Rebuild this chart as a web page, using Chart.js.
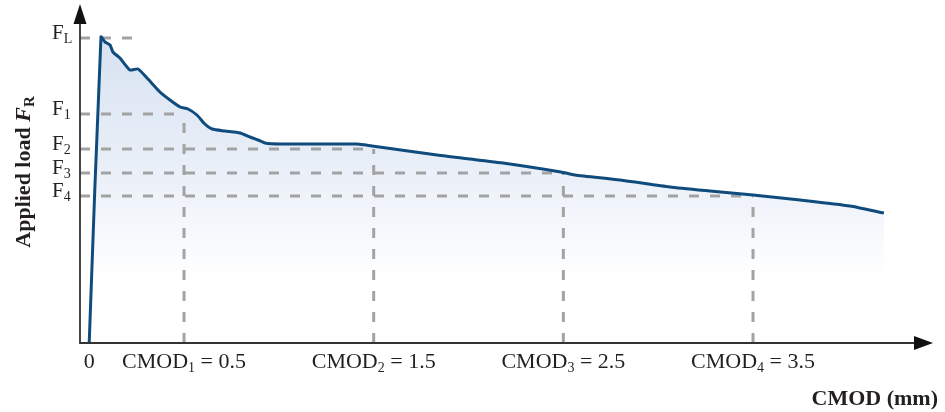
<!DOCTYPE html>
<html>
<head>
<meta charset="utf-8">
<script src="https://cdn.jsdelivr.net/npm/chart.js@4/dist/chart.umd.min.js"></script>
<style>
  html, body { margin: 0; padding: 0; background: #ffffff; }
  #wrap { width: 945px; height: 412px; }
</style>
</head>
<body>
<div id="wrap"><canvas id="c" width="945" height="412"></canvas></div>
<script>
// Load–CMOD curve of a notched beam test (schematic)
const cmod = [0, 0.062, 0.083, 0.110, 0.125, 0.162, 0.215, 0.257, 0.305, 0.373, 0.426, 0.479,
  0.521, 0.568, 0.610, 0.648, 0.716, 0.795, 0.848, 0.890, 0.927, 1.006, 1.412, 1.491,
  1.834, 2.182, 2.487, 2.561, 2.799, 3.062, 3.273, 3.500, 3.748, 4.011, 4.190];
const load = [0, 30.6, 30.1, 29.8, 29.1, 28.5, 27.3, 27.4, 26.5, 25.1, 24.3, 23.6,
  23.4, 22.8, 21.9, 21.4, 21.2, 21.0, 20.6, 20.3, 20.0, 19.9, 19.9, 19.7,
  18.8, 18.0, 17.1, 16.8, 16.3, 15.6, 15.2, 14.8, 14.3, 13.7, 13.0];

// Limit of proportionality and residual loads
const loadFL = 30.5;
const residualLoads = [22.9, 19.4, 17.0, 14.7];
// CMOD marks (mm) and their subscripts
const cmodMarks = [0.5, 1.5, 2.5, 3.5];
const cmodSubs = ['1', '2', '3', '4'];
const residualSubs = ['1', '2', '3', '4'];
const flGuideEnd = 0.24;

const xMin = -0.0485, xMax = 4.449;
const yMin = 0, yMax = 33.9;

const TEXT = '#231f20';
const SERIF = '"Liberation Serif", "DejaVu Serif", serif';
const DASH = '#a3a3a3';

const curvePoints = cmod.map((x, i) => ({ x, y: load[i] }));

function dashed(points) {
  return {
    data: points,
    borderColor: DASH,
    borderWidth: 3,
    borderDash: [10, 11],
    pointRadius: 0,
    fill: false,
    tension: 0,
    order: 2
  };
}

const datasets = [{
  data: curvePoints,
  borderColor: '#0f4c7d',
  borderWidth: 3,
  pointRadius: 0,
  tension: 0.2,
  borderJoinStyle: 'round',
  fill: 'origin',
  backgroundColor: (ctx) => {
    const area = ctx.chart.chartArea;
    if (!area) return 'rgba(220,230,242,0.8)';
    const g = ctx.chart.ctx.createLinearGradient(0, area.top + 34, 0, area.bottom - 64);
    g.addColorStop(0, 'rgb(215,226,241)');
    g.addColorStop(0.6, 'rgb(236,241,249)');
    g.addColorStop(1, 'rgb(255,255,255)');
    return g;
  },
  order: 1
}];

datasets.push(dashed([{ x: xMin, y: loadFL }, { x: flGuideEnd, y: loadFL }]));
residualLoads.forEach((f, i) => {
  datasets.push(dashed([{ x: xMin, y: f }, { x: cmodMarks[i], y: f }]));
  datasets.push(dashed([{ x: cmodMarks[i], y: 0 }, { x: cmodMarks[i], y: f }]));
});

// Draws text made of parts, some of them lowered as subscripts
function drawParts(ctx, parts, x, y, align) {
  let total = 0;
  parts.forEach(p => { ctx.font = p.font; total += ctx.measureText(p.t).width; });
  let cx = align === 'center' ? x - total / 2 : (align === 'right' ? x - total : x);
  ctx.textAlign = 'left';
  ctx.textBaseline = 'alphabetic';
  parts.forEach(p => {
    ctx.font = p.font;
    ctx.fillText(p.t, cx, y + (p.dy || 0));
    cx += ctx.measureText(p.t).width;
  });
}

const axesPlugin = {
  id: 'axesAndLabels',
  afterDraw(chart) {
    const ctx = chart.ctx;
    const xs = chart.scales.x, ys = chart.scales.y;
    const x0 = xs.getPixelForValue(xMin);
    const y0 = ys.getPixelForValue(0);
    const yTop = ys.getPixelForValue(yMax);
    const xEnd = xs.getPixelForValue(xMax);
    ctx.save();
    ctx.strokeStyle = '#333333';
    ctx.fillStyle = '#111111';
    ctx.lineWidth = 1.8;
    ctx.beginPath();
    ctx.moveTo(x0, yTop + 14);
    ctx.lineTo(x0, y0);
    ctx.lineTo(xEnd - 14, y0);
    ctx.stroke();
    // arrowheads
    ctx.beginPath();
    ctx.moveTo(x0, yTop);
    ctx.lineTo(x0 - 6.5, yTop + 20);
    ctx.lineTo(x0 + 6.5, yTop + 20);
    ctx.closePath();
    ctx.fill();
    ctx.beginPath();
    ctx.moveTo(xEnd, y0);
    ctx.lineTo(xEnd - 19, y0 - 7);
    ctx.lineTo(xEnd - 19, y0 + 7);
    ctx.closePath();
    ctx.fill();

    ctx.fillStyle = TEXT;
    const main = '22px ' + SERIF;
    const sub = '14px ' + SERIF;

    // load labels on the vertical axis
    const labelX = 52;
    const small = '21px ' + SERIF;
    drawParts(ctx, [{ t: 'F', font: small }, { t: 'L', font: sub, dy: 4 }], labelX, ys.getPixelForValue(loadFL) + 1, 'left');
    residualLoads.forEach((f, i) => {
      drawParts(ctx, [{ t: 'F', font: small }, { t: residualSubs[i], font: sub, dy: 4 }], labelX, ys.getPixelForValue(f) + 1, 'left');
    });

    // CMOD labels on the horizontal axis
    const baseY = 368;
    drawParts(ctx, [{ t: '0', font: main }], xs.getPixelForValue(0), baseY, 'center');
    cmodMarks.forEach((m, i) => {
      drawParts(ctx, [
        { t: 'CMOD', font: main },
        { t: cmodSubs[i], font: sub, dy: 4 },
        { t: ' = ' + m, font: main }
      ], xs.getPixelForValue(m), baseY, 'center');
    });

    // axis titles
    drawParts(ctx, [{ t: 'CMOD (mm)', font: 'bold 22px ' + SERIF }], 938, 405, 'right');

    ctx.translate(30, 172);
    ctx.rotate(-Math.PI / 2);
    drawParts(ctx, [
      { t: 'Applied load ', font: 'bold 22px ' + SERIF },
      { t: 'F', font: 'italic bold 22px ' + SERIF },
      { t: 'R', font: 'bold 15px ' + SERIF, dy: 4 }
    ], 0, 0, 'center');
    ctx.restore();
  }
};

new Chart(document.getElementById('c'), {
  type: 'line',
  data: { datasets },
  options: {
    responsive: false,
    animation: false,
    layout: { padding: { left: 80, right: 12, top: 4, bottom: 69 } },
    scales: {
      x: { type: 'linear', display: false, min: xMin, max: xMax },
      y: { type: 'linear', display: false, min: yMin, max: yMax }
    },
    plugins: {
      legend: { display: false },
      tooltip: { enabled: false },
      filler: { drawTime: 'beforeDatasetsDraw' }
    }
  },
  plugins: [axesPlugin]
});
</script>
</body>
</html>
